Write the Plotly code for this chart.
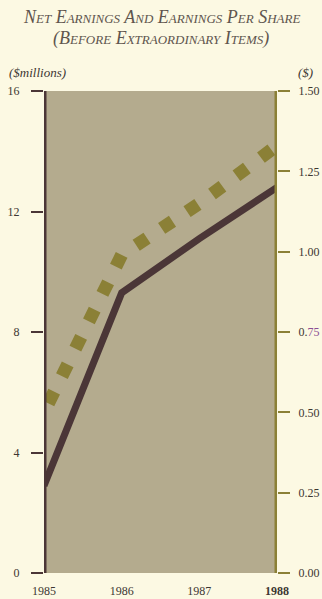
import plotly.graph_objects as go

# ---- data -------------------------------------------------------------
years = [1985, 1986, 1987, 1988]
net_earnings = [2.9, 9.3, 11.1, 12.8]        # $ millions (left axis)
eps = [0.50, 0.99, 1.15, 1.33]               # $ per share (right axis)

left_ticks = [0, 4, 8, 12, 16]
left_labels = ["0", "4", "8", "12", "16"]
right_ticks = [0.00, 0.25, 0.50, 0.75, 1.00, 1.25, 1.50]
right_labels = ["0.00", "0.25", "0.50",
                "0.<span style='color:#8b4e94'>75</span>",
                "1.00", "1.25", "1.50"]
year_labels = ["1985", "1986", "1987", "<b>1988</b>"]

# ---- styling ----------------------------------------------------------
CREAM = "#fcf9e3"
KHAKI = "#b4ab8e"
BROWN = "#4b3637"
OLIVE = "#8b8036"
INK = "#3d3732"
TITLE_INK = "#5e554e"
SERIF = "Liberation Serif"

W, H = 322, 599
L, R, T, B = 44, 45, 91, 26


def px_x(px):
    return (px - L) / (W - L - R)


def px_y(py):
    return (H - B - py) / (H - T - B)


fig = go.Figure()

# net earnings: solid heavy line
fig.add_trace(go.Scatter(
    x=years, y=net_earnings, mode="lines", yaxis="y",
    line=dict(color=BROWN, width=7),
    hoverinfo="skip",
))

# earnings per share: chain of square blocks along the path
fig.add_trace(go.Scatter(
    x=years, y=eps, mode="lines", yaxis="y2",
    line=dict(color=OLIVE, width=13, dash="0px,10px,13px,7.5px"),
    hoverinfo="skip",
))

fig.update_layout(
    width=W, height=H,
    margin=dict(l=L, r=R, t=T, b=B, pad=0, autoexpand=False),
    paper_bgcolor=CREAM,
    plot_bgcolor=KHAKI,
    showlegend=False,
    font=dict(family=SERIF, size=12, color=INK),
    xaxis=dict(
        range=[1985, 1988], tickvals=years, ticktext=year_labels,
        showgrid=False, zeroline=False, showline=False, ticks="",
        ticklabelstandoff=9, automargin=False,
        tickfont=dict(size=12, color=INK),
    ),
    yaxis=dict(
        range=[0, 16], tickvals=left_ticks, ticktext=left_labels,
        showgrid=False, zeroline=False, showline=False,
        ticks="outside", ticklen=12, tickwidth=2, tickcolor=BROWN,
        ticklabelstandoff=9, automargin=False,
        tickfont=dict(size=12, color=INK),
    ),
    yaxis2=dict(
        range=[0, 1.5], tickvals=right_ticks, ticktext=right_labels,
        overlaying="y", side="right",
        showgrid=False, zeroline=False, showline=False,
        ticks="outside", ticklen=12, tickwidth=2, tickcolor=OLIVE,
        ticklabelstandoff=6, automargin=False,
        tickfont=dict(size=12, color=INK),
    ),
)

# heavy axis rules on both sides of the panel
fig.add_shape(type="line", xref="x", yref="paper", x0=1985, x1=1985,
              y0=0, y1=1, line=dict(color=BROWN, width=5), layer="above")
fig.add_shape(type="line", xref="x", yref="paper", x0=1988, x1=1988,
              y0=0, y1=1, line=dict(color=OLIVE, width=5), layer="above")

title_font = dict(family=SERIF, size=18, color=TITLE_INK,
                  style="italic", variant="small-caps")
fig.add_annotation(text="Net Earnings And Earnings Per Share",
                   xref="paper", yref="paper", x=px_x(161), y=px_y(17),
                   xanchor="center", yanchor="middle", showarrow=False,
                   font=title_font)
fig.add_annotation(text="(Before Extraordinary Items)",
                   xref="paper", yref="paper", x=px_x(161), y=px_y(39),
                   xanchor="center", yanchor="middle", showarrow=False,
                   font=title_font)

unit_font = dict(family=SERIF, size=13, color=INK, style="italic")
fig.add_annotation(text="($millions)", xref="paper", yref="paper",
                   x=px_x(37), y=px_y(73), xanchor="center", yanchor="middle",
                   showarrow=False, font=unit_font)
fig.add_annotation(text="($)", xref="paper", yref="paper",
                   x=px_x(305), y=px_y(73), xanchor="center", yanchor="middle",
                   showarrow=False, font=unit_font)

fig.write_html("out.html")
